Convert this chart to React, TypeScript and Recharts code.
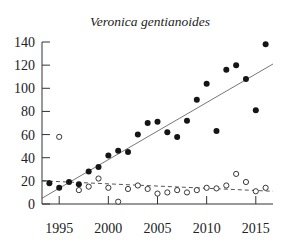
import { ScatterChart, Scatter, XAxis, YAxis, ReferenceLine } from 'recharts'

const filledYears = [1994, 1995, 1996, 1997, 1998, 1999, 2000, 2001, 2002, 2003, 2004, 2005, 2006, 2007, 2008, 2009, 2010, 2011, 2012, 2013, 2014, 2015, 2016]
const filledValues = [18, 14, 19, 17, 28, 32, 42, 46, 45, 60, 70, 71, 62, 58, 72, 90, 104, 63, 116, 120, 108, 81, 138]

const openYears = [1995, 1997, 1998, 1999, 2000, 2001, 2002, 2003, 2004, 2005, 2006, 2007, 2008, 2009, 2010, 2011, 2012, 2013, 2014, 2015, 2016]
const openValues = [58, 12, 15, 22, 14, 2, 13, 16, 13, 9, 10, 12, 10, 12, 14, 13.5, 16, 26, 19, 11, 14]

const trendYears = [1993.25, 2016.75]
const solidTrend = [5, 121]
const dashedTrend = [20, 11]

const xTicks = [1995, 2000, 2005, 2010, 2015]
const yTicks = [0, 20, 40, 60, 80, 100, 120, 140]

const filledData = filledYears.map((year, i) => ({ year, value: filledValues[i] }))
const openData = openYears.map((year, i) => ({ year, value: openValues[i] }))

const serif = "'Liberation Serif', Tinos, 'Times New Roman', Times, serif"
const tickStyle = { fontFamily: serif, fontSize: 14, fill: '#222' }
const axisColor = '#333'

const FilledDot = (props: any) => <circle cx={props.cx} cy={props.cy} r={3} fill="#151515" />
const OpenDot = (props: any) => (
  <circle cx={props.cx} cy={props.cy} r={2.6} fill="#fff" stroke="#222" strokeWidth={0.9} />
)

export default function App() {
  return (
    <div style={{ position: 'absolute', left: 0, top: 0, width: 300, height: 242, background: '#fff' }}>
      <div
        style={{
          position: 'absolute',
          top: 14,
          left: 0,
          width: 300,
          textAlign: 'center',
          fontFamily: serif,
          fontStyle: 'italic',
          fontSize: 13.5,
          color: '#222',
        }}
      >
        Veronica gentianoides
      </div>
      <ScatterChart width={300} height={242} margin={{ top: 42, right: 27, bottom: 0, left: 0 }}>
        <XAxis
          type="number"
          dataKey="year"
          domain={[trendYears[0], trendYears[1]]}
          ticks={xTicks}
          allowDataOverflow
          height={38}
          tickSize={-8}
          tickMargin={27}
          tick={tickStyle}
          axisLine={{ stroke: axisColor }}
          tickLine={{ stroke: axisColor }}
        />
        <YAxis
          type="number"
          dataKey="value"
          domain={[0, 140]}
          ticks={yTicks}
          width={42}
          tickSize={-8}
          tickMargin={15}
          tick={tickStyle}
          axisLine={{ stroke: axisColor }}
          tickLine={{ stroke: axisColor }}
        />
        <ReferenceLine
          segment={[
            { x: trendYears[0], y: solidTrend[0] },
            { x: trendYears[1], y: solidTrend[1] },
          ]}
          stroke="#777"
          strokeWidth={1}
        />
        <ReferenceLine
          segment={[
            { x: trendYears[0], y: dashedTrend[0] },
            { x: trendYears[1], y: dashedTrend[1] },
          ]}
          stroke="#555"
          strokeWidth={1}
          strokeDasharray="4 3"
        />
        <Scatter data={openData} shape={OpenDot} isAnimationActive={false} />
        <Scatter data={filledData} shape={FilledDot} isAnimationActive={false} />
      </ScatterChart>
    </div>
  )
}
